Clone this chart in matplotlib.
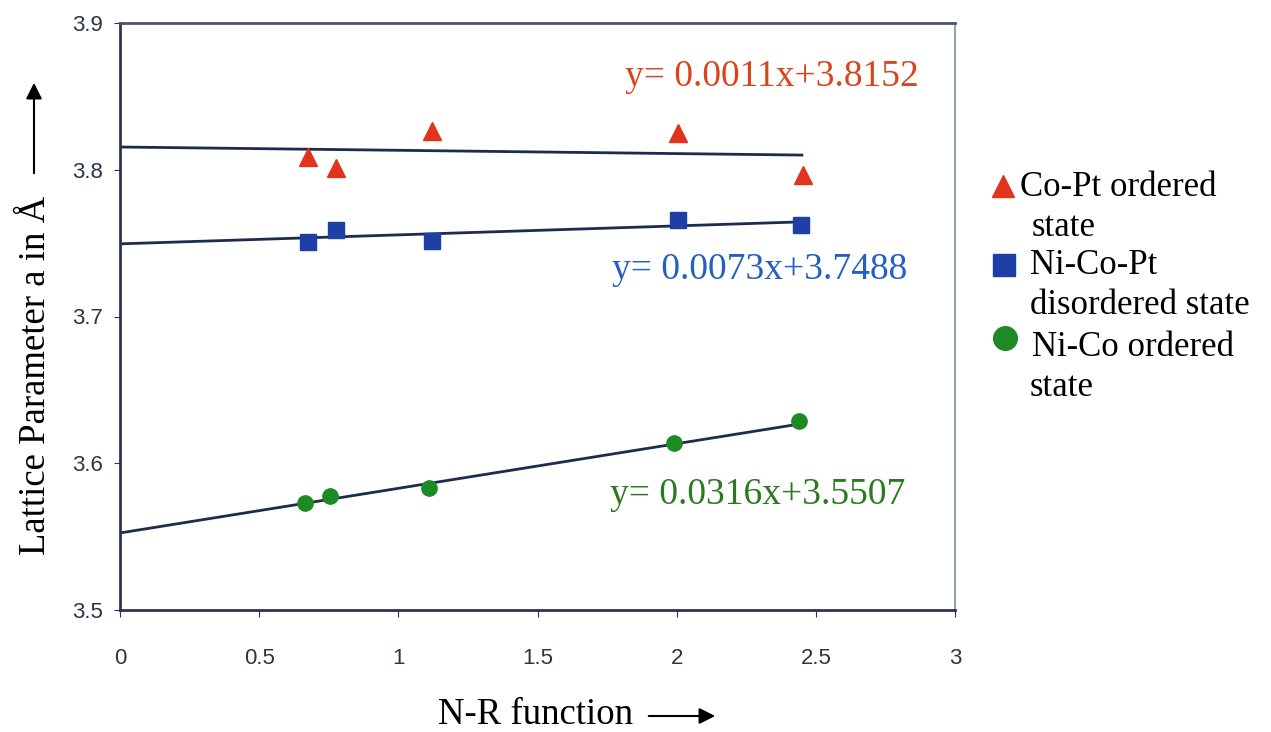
import matplotlib.pyplot as plt

# Dados
x_copt = [0.676, 0.776, 1.121, 2.005, 2.455]
y_copt = [3.8087, 3.8012, 3.8264, 3.8250, 3.7964]

x_nicopt = [0.676, 0.776, 1.121, 2.005, 2.445]
y_nicopt = [3.7508, 3.7590, 3.7514, 3.7660, 3.7623]

x_nico = [0.665, 0.755, 1.11, 1.99, 2.44]
y_nico = [3.5730, 3.5780, 3.5834, 3.6140, 3.6285]

# linhas de tendencia (extremos)
trend_x = [0, 2.45]
trend_copt = [3.8155, 3.8100]
trend_nicopt = [3.7495, 3.7645]
trend_nico = [3.5525, 3.6270]

eq_copt = "y= 0.0011x+3.8152"
eq_nicopt = "y= 0.0073x+3.7488"
eq_nico = "y= 0.0316x+3.5507"

xticks = [0, 0.5, 1, 1.5, 2, 2.5, 3]
xtick_labels = ['0', '0.5', '1', '1.5', '2', '2.5', '3']
yticks = [3.5, 3.6, 3.7, 3.8, 3.9]
ytick_labels = ['3.5', '3.6', '3.7', '3.8', '3.9']

legend_lines = [
    ['Co-Pt ordered', 'state'],
    ['Ni-Co-Pt', 'disordered state'],
    ['Ni-Co ordered', 'state'],
]

serif = ['Liberation Serif', 'DejaVu Serif']
red, blue, green = '#e0341c', '#1d3fa6', '#1e8a24'

W, H = 1271, 732
fig = plt.figure(figsize=(W / 100, H / 100), dpi=100)
ax = fig.add_axes([120 / W, 1 - 610 / H, 835 / W, 587 / H])

def fx(px):
    return px / W

def fy(py):
    return 1 - py / H

line_col = '#1d2b4c'
ax.plot(trend_x, trend_copt, color=line_col, lw=2)
ax.plot(trend_x, trend_nicopt, color=line_col, lw=2)
ax.plot(trend_x, trend_nico, color=line_col, lw=2)

ax.plot(x_copt, y_copt, '^', color=red, ms=13, ls='none')
ax.plot(x_nicopt, y_nicopt, 's', color=blue, ms=12, ls='none')
ax.plot(x_nico, y_nico, 'o', color=green, ms=11, ls='none')

ax.set_xlim(0, 3)
ax.set_ylim(3.5, 3.9)
ax.set_xticks(xticks)
ax.set_xticklabels(xtick_labels)
ax.set_yticks(yticks)
ax.set_yticklabels(ytick_labels)
ax.tick_params(axis='x', labelsize=16, colors='#2c3446', length=5, pad=22)
ax.tick_params(axis='y', labelsize=16, colors='#2c3446', length=4, pad=8)
for lab in ax.get_xticklabels() + ax.get_yticklabels():
    lab.set_family('Liberation Sans')

for s in ['top', 'bottom', 'left']:
    ax.spines[s].set_color('#2a3550')
    ax.spines[s].set_linewidth(2)
ax.spines['top'].set_color('#4a5468')
ax.spines['right'].set_color('#8090a8')
ax.spines['right'].set_linewidth(1.2)

# equacoes das retas
fig.text(fx(772), fy(77), eq_copt, color='#d8451c', fontsize=27, family=serif,
         ha='center', va='center')
fig.text(fx(760), fy(270), eq_nicopt, color='#2360bf', fontsize=27,
         family=serif, ha='center', va='center')
fig.text(fx(758), fy(495), eq_nico, color='#2a7a1e', fontsize=27,
         family=serif, ha='center', va='center')

# rotulos dos eixos com setas
fig.text(fx(535), fy(715), 'N-R function', fontsize=26.5, family=serif,
         ha='center', va='center')
ax.annotate('', xy=(fx(718), fy(716)), xytext=(fx(646), fy(716)),
            xycoords='figure fraction', textcoords='figure fraction',
            arrowprops=dict(arrowstyle='-|>', color='k', lw=1.5,
                            mutation_scale=24))
fig.text(fx(36), fy(375), 'Lattice Parameter a in \u00c5', fontsize=26.5,
         family=serif, ha='center', va='center', rotation=90)
ax.annotate('', xy=(fx(34), fy(80)), xytext=(fx(34), fy(176)),
            xycoords='figure fraction', textcoords='figure fraction',
            arrowprops=dict(arrowstyle='-|>', color='k', lw=1.5,
                            mutation_scale=24))

# legenda
leg_marks = [('^', red, 16, 1003, 186), ('s', blue, 16, 1004, 265),
             ('o', green, 17, 1005, 338)]
for m, c, ms, px, py in leg_marks:
    ax.plot([fx(px)], [fy(py)], m, color=c, ms=ms, transform=fig.transFigure,
            clip_on=False)
leg_pos = [[(1020, 188), (1032, 228)], [(1030, 265), (1030, 305)],
           [(1032, 347), (1030, 387)]]
for lines, pos in zip(legend_lines, leg_pos):
    for txt, (px, py) in zip(lines, pos):
        fig.text(fx(px), fy(py), txt, fontsize=25, family=serif,
                 ha='left', va='center')

plt.savefig('out.png', dpi=100)
